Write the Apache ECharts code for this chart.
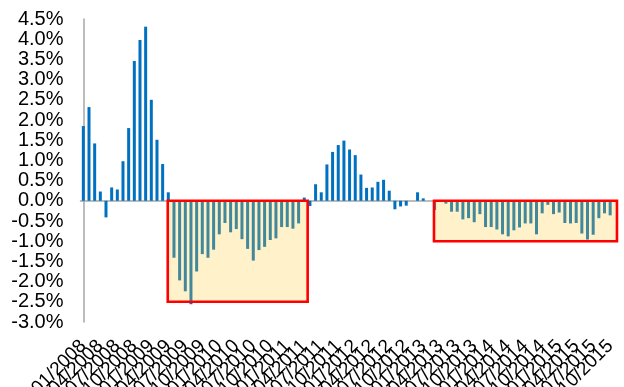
<!DOCTYPE html>
<html>
<head>
<meta charset="utf-8">
<script src="https://cdn.jsdelivr.net/npm/echarts@6/dist/echarts.min.js"></script>
<style>
  html, body { margin: 0; padding: 0; background: #ffffff; }
  #chart { width: 624px; height: 387px; }
</style>
</head>
<body>
<div id="chart"></div>
<script>
// Monthly categories, 01/2008 .. 10/2015
const firstYear = 2008;
const monthCount = 94;
const months = [];
for (let i = 0; i < monthCount; i++) {
  const m = (i % 12) + 1;
  const y = firstYear + Math.floor(i / 12);
  months.push((m < 10 ? '0' + m : '' + m) + '/' + y);
}

// Monthly change, percent
const changePct = [
  1.85, 2.32, 1.42, 0.23, -0.41, 0.33, 0.28, 0.98, 1.80, 3.46, 3.98, 4.31,
  2.50, 1.51, 0.91, 0.21, -1.41, -1.97, -2.24, -2.56, -1.75, -1.32, -1.41, -1.21,
  -0.83, -0.55, -0.78, -0.70, -0.95, -1.19, -1.48, -1.22, -1.14, -0.97, -0.93, -0.65,
  -0.65, -0.69, -0.56, 0.08, -0.13, 0.41, 0.21, 0.90, 1.21, 1.38, 1.49, 1.27,
  1.13, 0.65, 0.32, 0.33, 0.47, 0.52, 0.25, -0.21, -0.14, -0.12, 0.00, 0.21,
  0.06, 0.00, -0.23, -0.01, -0.07, -0.27, -0.27, -0.46, -0.43, -0.53, -0.33, -0.65,
  -0.65, -0.71, -0.83, -0.88, -0.73, -0.66, -0.56, -0.56, -0.83, -0.31, -0.10, -0.33,
  -0.29, -0.55, -0.56, -0.55, -0.81, -0.96, -0.84, -0.43, -0.31, -0.36
];

// Highlighted periods: [from index, to index, top %, bottom %]
const highlightBoxes = [
  [14.9, 39.6, 0, -2.5],
  [61.9, 94.2, 0, -1.0]
];

// Value axis range
const yMin = -3.0;
const yMax = 4.5;
const yStep = 0.5;

const chart = echarts.init(document.getElementById('chart'), null, { renderer: 'canvas' });
const font = '"Liberation Sans", Arial, sans-serif';

// Quarterly month labels, split over two label rows so none get dropped
function monthLabelAxis(offsetIdx) {
  return {
    type: 'category',
    data: months,
    position: 'bottom',
    axisLine: { show: false, onZero: false },
    axisTick: { show: false },
    splitLine: { show: false },
    axisLabel: {
      interval: idx => idx % 6 === offsetIdx,
      rotate: 45,
      margin: 21,
      fontSize: 19,
      fontFamily: font,
      color: '#000000',
      hideOverlap: false
    }
  };
}

chart.setOption({
  animation: false,
  backgroundColor: '#ffffff',
  grid: {
    left: 80.5, right: 11, top: 19, bottom: 65,
    containLabel: false,
    outerBoundsMode: 'none'
  },
  xAxis: [
    monthLabelAxis(0),
    {
      // index axis used for the highlight boxes and the zero line
      type: 'value',
      min: -0.5,
      max: monthCount - 0.5,
      position: 'bottom',
      axisLine: { show: true, onZero: true, lineStyle: { color: '#a6a6a6', width: 1.5 } },
      axisTick: { show: false },
      axisLabel: { show: false },
      splitLine: { show: false }
    },
    monthLabelAxis(3)
  ],
  yAxis: {
    type: 'value',
    min: yMin,
    max: yMax,
    interval: yStep,
    axisLine: { show: true, lineStyle: { color: '#a6a6a6', width: 1.5 } },
    axisTick: { show: false },
    splitLine: { show: false },
    axisLabel: {
      margin: 17,
      fontSize: 20,
      fontFamily: font,
      color: '#000000',
      showMinLabel: true,
      showMaxLabel: true,
      formatter: v => v.toFixed(1) + '%'
    }
  },
  series: [
    {
      type: 'bar',
      xAxisIndex: 0,
      data: changePct,
      barWidth: 3,
      itemStyle: { color: '#0070c0' },
      z: 2
    },
    {
      type: 'custom',
      xAxisIndex: 1,
      data: highlightBoxes,
      encode: { x: [0, 1], y: [2, 3] },
      z: 5,
      renderItem: function (params, api) {
        const p1 = api.coord([api.value(0), api.value(2)]);
        const p2 = api.coord([api.value(1), api.value(3)]);
        return {
          type: 'rect',
          shape: { x: p1[0], y: p1[1], width: p2[0] - p1[0], height: p2[1] - p1[1] },
          style: { fill: 'rgba(255,204,51,0.26)', stroke: '#ff0000', lineWidth: 2.6 }
        };
      }
    }
  ]
});
</script>
</body>
</html>
